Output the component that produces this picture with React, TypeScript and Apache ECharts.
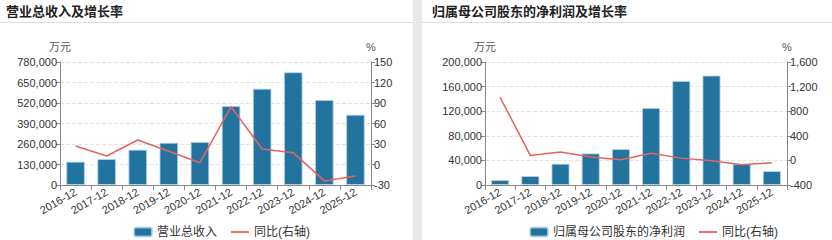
import React, { useEffect, useRef } from "react";
import * as echarts from "echarts";

const categories = ["2016-12", "2017-12", "2018-12", "2019-12", "2020-12", "2021-12", "2022-12", "2023-12", "2024-12", "2025-12"];
const revenue = [148000, 165000, 224000, 268000, 273000, 501000, 611000, 715000, 539000, 446000];
const revenueYoY = [27, 12.4, 35.8, 19.5, 2.6, 84.6, 22.7, 17.3, -24, -16.8];
const profit = [8100, 14600, 34600, 51400, 58400, 125400, 169200, 178000, 34000, 22700];
const profitYoY = [1025, 81, 135, 54, 11, 118, 37, -5, -70, -38];

const leftTitle = "营业总收入及增长率";
const rightTitle = "归属母公司股东的净利润及增长率";
const revenueName = "营业总收入";
const profitName = "归属母公司股东的净利润";
const yoyName = "同比(右轴)";

const FONT = "'Liberation Sans', 'Noto Sans CJK SC', sans-serif";
const BAR = "#22749f";
const LINE = "#e8635d";

export default function App() {
  const ref = useRef<HTMLDivElement>(null);
  useEffect(() => {
    document.body.style.margin = "0";
    const chart = echarts.init(ref.current!, undefined, { renderer: "svg" });
    const axisLabel = { color: "#333", fontSize: 11, fontFamily: FONT };
    const fmt = (v: number) => v.toLocaleString("en-US");
    const yCommon = (gridIndex: number, position: "left" | "right") => ({
      gridIndex,
      position,
      nameLocation: "end" as const,
      nameGap: 10,
      nameTextStyle: { color: "#555", fontSize: 11, fontFamily: FONT },
      axisLine: { show: true, lineStyle: { color: "#888" } },
      axisTick: { show: true, length: 4, lineStyle: { color: "#888" } },
      axisLabel: { ...axisLabel, margin: 3, formatter: fmt },
    });
    const xCommon = (gridIndex: number) => ({
      type: "category" as const,
      gridIndex,
      data: categories,
      axisLine: { lineStyle: { color: "#888" } },
      axisTick: { show: true, alignWithLabel: false, lineStyle: { color: "#888" } },
      axisLabel: { ...axisLabel, rotate: 30, interval: 0, margin: 6 },
    });
    chart.setOption({
      animation: false,
      textStyle: { fontFamily: FONT },
      graphic: [
        { type: "rect", shape: { x: 0, y: 0, width: 832, height: 240 }, style: { fill: "#e8e8e8" }, silent: true, z: -10 },
        { type: "rect", shape: { x: 0, y: 0, width: 413, height: 240 }, style: { fill: "#fff" }, silent: true, z: -9 },
        { type: "rect", shape: { x: 422, y: 0, width: 410, height: 240 }, style: { fill: "#fff" }, silent: true, z: -9 },
        { type: "line", shape: { x1: 0, y1: 22.5, x2: 413, y2: 22.5 }, style: { stroke: "#ddd", lineWidth: 1 }, silent: true },
        { type: "line", shape: { x1: 422, y1: 22.5, x2: 832, y2: 22.5 }, style: { stroke: "#ddd", lineWidth: 1 }, silent: true },
        { type: "text", x: 6, y: 5, style: { text: leftTitle, fill: "#222", font: `bold 13px ${FONT}` } },
        { type: "text", x: 432, y: 5, style: { text: rightTitle, fill: "#222", font: `bold 13px ${FONT}` } },
      ],
      legend: [
        {
          left: 128, top: 221, itemWidth: 18, itemHeight: 9, itemGap: 14,
          textStyle: { color: "#333", fontSize: 12, fontFamily: FONT },
          data: [{ name: revenueName, icon: "roundRect" }, { name: yoyName + " ", icon: "path://M0,0H20V2H0Z", itemStyle: { color: LINE } }],
        },
        {
          left: 524, top: 221, itemWidth: 18, itemHeight: 9, itemGap: 14,
          textStyle: { color: "#333", fontSize: 12, fontFamily: FONT },
          data: [{ name: profitName, icon: "roundRect" }, { name: yoyName, icon: "path://M0,0H20V2H0Z", itemStyle: { color: LINE } }],
        },
      ],
      grid: [
        { left: 60, right: 461, top: 62, bottom: 55 },
        { left: 485, right: 45, top: 62, bottom: 55 },
      ],
      xAxis: [xCommon(0), xCommon(1)],
      yAxis: [
        {
          ...yCommon(0, "left"), type: "value", name: "万元", min: 0, max: 780000, interval: 130000,
          splitLine: { show: true, lineStyle: { color: "#e3e3e3", type: "dashed" } },
        },
        {
          ...yCommon(0, "right"), type: "value", name: "%", min: -30, max: 150, interval: 30,
          splitLine: { show: false },
        },
        {
          ...yCommon(1, "left"), type: "value", name: "万元", min: 0, max: 200000, interval: 40000,
          splitLine: { show: true, lineStyle: { color: "#e3e3e3", type: "dashed" } },
        },
        {
          ...yCommon(1, "right"), type: "value", name: "%", min: -400, max: 1600, interval: 400,
          splitLine: { show: false },
        },
      ],
      series: [
        {
          name: revenueName, type: "bar", xAxisIndex: 0, yAxisIndex: 0, data: revenue, barWidth: "60%",
          itemStyle: { color: BAR, borderColor: "rgba(180,210,230,0.8)", borderWidth: 1 },
        },
        {
          name: yoyName + " ", type: "line", xAxisIndex: 0, yAxisIndex: 1, data: revenueYoY, symbol: "none",
          lineStyle: { color: LINE, width: 1.5 }, itemStyle: { color: LINE },
        },
        {
          name: profitName, type: "bar", xAxisIndex: 1, yAxisIndex: 2, data: profit, barWidth: "60%",
          itemStyle: { color: BAR, borderColor: "rgba(180,210,230,0.8)", borderWidth: 1 },
        },
        {
          name: yoyName, type: "line", xAxisIndex: 1, yAxisIndex: 3, data: profitYoY, symbol: "none",
          lineStyle: { color: LINE, width: 1.5 }, itemStyle: { color: LINE },
        },
      ],
    });
    return () => chart.dispose();
  }, []);
  return <div ref={ref} style={{ width: 832, height: 240 }} />;
}
